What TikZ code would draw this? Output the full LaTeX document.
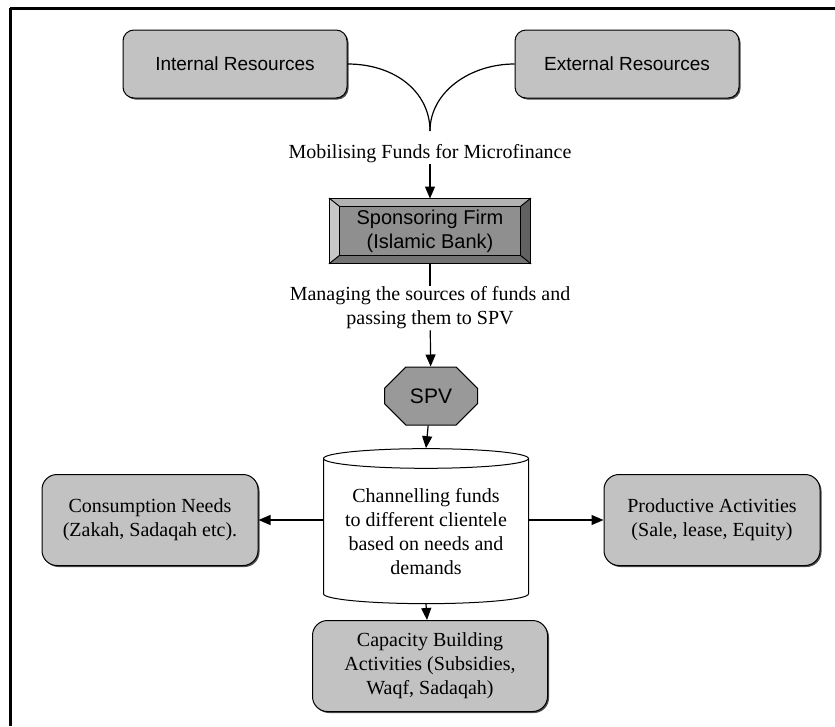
\documentclass[tikz,border=0pt]{standalone}
\usepackage{fontspec}
\setmainfont{Liberation Serif}
\setsansfont{Liberation Sans}
\usetikzlibrary{arrows.meta,calc,shapes.geometric,shapes.misc,shadows}

\definecolor{boxgray}{gray}{0.76}
\definecolor{firmgray}{gray}{0.56}
\definecolor{spvgray}{gray}{0.60}

\begin{document}
\begin{tikzpicture}[
    x=1pt, y=-1pt,
    >=Stealth,
    every node/.style={font=\rmfamily\fontsize{20}{24}\selectfont},
    % resource boxes
    res/.style={
        draw, rounded corners=11pt, line width=1pt, fill=boxgray,
        minimum width=224pt, minimum height=68pt,
        font=\sffamily\fontsize{19}{23}\selectfont,
        drop shadow={shadow xshift=1.5pt, shadow yshift=-1.5pt, fill=black!70, opacity=1}
    },
    % clientele boxes
    need/.style={
        draw, rounded corners=15pt, line width=1pt, fill=boxgray, align=center,
        minimum width=216pt, minimum height=91pt, inner sep=2pt,
        drop shadow={shadow xshift=1.5pt, shadow yshift=-1.5pt, fill=black!70, opacity=1}
    },
    % plain labels
    lbl/.style={align=center, inner sep=1pt},
    % connectors
    arr/.style={-{Triangle[length=12pt, width=10pt]}, line width=1.2pt},
    link/.style={-, line width=1.2pt},
]

\useasboundingbox (0,0) rectangle (835,726);

%% frame (top and left edge only)
\draw[line width=3pt] (10,8) -- (835,8);
\draw[line width=3pt] (10,8) -- (10,726);

%% sources
\node[res] (intres) at (235,64) {Internal Resources};
\node[res] (extres) at (627,64) {External Resources};
\coordinate (cusp) at (430,131);

\draw[link] (intres.east) .. controls (395,64) and (430,92) .. (cusp);
\draw[link] (extres.west) .. controls (470,64) and (430,92) .. (cusp);

\node[lbl] (mob) at (430,154) {Mobilising Funds for Microfinance};

%% sponsoring firm (bevelled box)
\node[draw, line width=1pt, fill=firmgray, minimum width=200pt, minimum height=64pt,
      font=\sffamily\fontsize{20}{24}\selectfont, align=center]
    (firm) at (430,231) {Sponsoring Firm\\(Islamic Bank)};

\def\bx{10}  % bevel width
\def\by{8}   % bevel height
\filldraw[line width=0.8pt, fill=black!30]
    (firm.north west) -- (firm.north east) -- ($(firm.north east)+(-\bx,\by)$) -- ($(firm.north west)+(\bx,\by)$) -- cycle;
\filldraw[line width=0.8pt, fill=black!22]
    (firm.north west) -- ($(firm.north west)+(\bx,\by)$) -- ($(firm.south west)+(\bx,-\by)$) -- (firm.south west) -- cycle;
\filldraw[line width=0.8pt, fill=black!62]
    (firm.north east) -- ($(firm.north east)+(-\bx,\by)$) -- ($(firm.south east)+(-\bx,-\by)$) -- (firm.south east) -- cycle;
\filldraw[line width=0.8pt, fill=black!55]
    (firm.south west) -- ($(firm.south west)+(\bx,-\by)$) -- ($(firm.south east)+(-\bx,-\by)$) -- (firm.south east) -- cycle;

\draw[arr] (mob) -- (firm);

\node[lbl] (manage) at (430,308) {Managing the sources of funds and\\passing them to SPV};
\draw[link] (firm) -- (manage);

%% SPV
\node[chamfered rectangle, chamfered rectangle xsep=17pt, chamfered rectangle ysep=14pt,
      draw, line width=1pt, fill=spvgray, minimum width=93pt, minimum height=58pt,
      font=\sffamily\fontsize{21}{24}\selectfont, inner sep=0pt]
    (spv) at (431,396) {SPV};
\draw[arr] (manage) -- (spv);

%% channelling funds
\node[cylinder, shape border rotate=90, aspect=0.12, draw, line width=1pt, fill=white,
      minimum width=205pt, minimum height=155pt, align=center, inner sep=1pt]
    (chan) at (426,532) {Channelling funds\\to different clientele\\based on needs and\\demands};
\draw[arr] (spv) -- (chan.top);

%% clientele
\node[need] (cons) at (150,520) {Consumption Needs\\(Zakah, Sadaqah etc).};
\node[need] (prod) at (712,520) {Productive Activities\\(Sale, lease, Equity)};
\node[need, minimum width=235pt] (cap) at (430,666) {Capacity Building\\Activities (Subsidies,\\Waqf, Sadaqah)};

\draw[arr] (chan.west |- cons) -- (cons);
\draw[arr] (chan.east |- prod) -- (prod);
\draw[arr] (chan.bottom) -- (cap);

\end{tikzpicture}
\end{document}
